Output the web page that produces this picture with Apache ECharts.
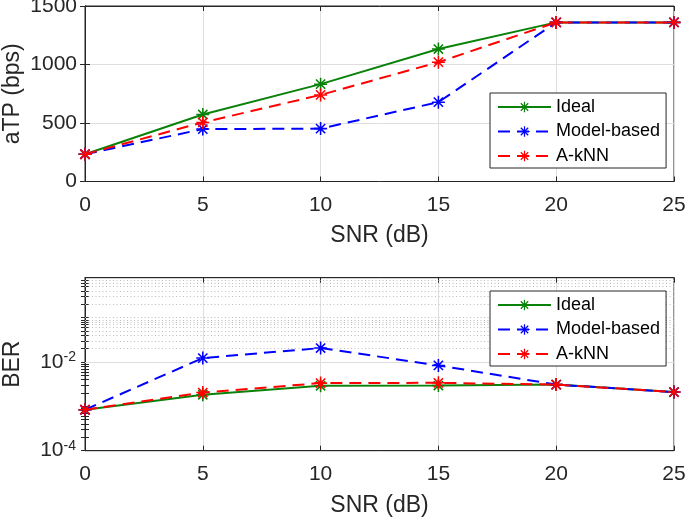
<!DOCTYPE html>
<html>
<head>
<meta charset="utf-8">
<script src="https://cdn.jsdelivr.net/npm/echarts@6/dist/echarts.min.js"></script>
<style>
html,body{margin:0;padding:0;background:#fff;}
#c{width:685px;height:519px;}
</style>
</head>
<body>
<div id="c"></div>
<script>
// ---- data ----
const snr = [0, 5, 10, 15, 20, 25];
const seriesNames = ['Ideal', 'Model-based', 'A-kNN'];
const atpIdeal = [233, 573, 832, 1132, 1360, 1360];
const atpModel = [233, 448, 452, 678, 1360, 1360];
const atpAknn  = [233, 505, 740, 1020, 1360, 1360];
const berIdeal = [8.4e-4, 1.83e-3, 2.92e-3, 2.95e-3, 3.1e-3, 2.1e-3];
const berModel = [8.4e-4, 1.23e-2, 2.07e-2, 8.4e-3, 3.1e-3, 2.1e-3];
const berAknn  = [8.4e-4, 2.05e-3, 3.35e-3, 3.4e-3, 3.1e-3, 2.1e-3];
const atpMin = 0, atpMax = 1500, atpStep = 500;
const snrMin = 0, snrMax = 25, snrStep = 5;
const berMin = 1e-4, berMax = 0.8;
const berMajor = [1e-4, 1e-2];
const berMinor = [2e-4, 3e-4, 4e-4, 5e-4, 6e-4, 7e-4, 8e-4, 9e-4,
  1e-3, 2e-3, 3e-3, 4e-3, 5e-3, 6e-3, 7e-3, 8e-3, 9e-3,
  2e-2, 3e-2, 4e-2, 5e-2, 6e-2, 7e-2, 8e-2, 9e-2,
  1e-1, 2e-1, 3e-1, 4e-1, 5e-1, 6e-1, 7e-1];

// ---- styling ----
const colors = ['#0a820a', '#0000ff', '#ff0000'];
const lineTypes = ['solid', [12, 7], [12, 7]];
const axisColor = '#262626';
const gridColor = '#dedede';
const FONT = 'Liberation Sans, Arial, Helvetica, sans-serif';
const star = 'path://M0 8.8L20 8.8L20 11.2L0 11.2Z M8.8 0L11.2 0L11.2 20L8.8 20Z M3.75 2.05L17.95 16.25L16.25 17.95L2.05 3.75Z M17.95 3.75L3.75 17.95L2.05 16.25L16.25 2.05Z';

const zip = (xs, ys) => xs.map((x, i) => [x, ys[i]]);

function mkSeries(name, idx, data, xi, yi) {
  return {
    name: name, type: 'line', xAxisIndex: xi, yAxisIndex: yi,
    data: zip(snr, data),
    symbol: star, symbolSize: 13, symbolKeepAspect: true,
    showAllSymbol: true,
    lineStyle: {color: colors[idx], width: 2, type: lineTypes[idx]},
    itemStyle: {color: colors[idx]},
    emphasis: {disabled: true},
    z: 3 + idx, animation: false
  };
}

const tickLabel = {color: axisColor, fontSize: 21, fontFamily: FONT};
const nameStyle = {color: axisColor, fontSize: 23, fontFamily: FONT};

const chart = echarts.init(document.getElementById('c'), null, {renderer: 'canvas'});

const xBase = (gi, pos, show) => ({
  type: 'value', gridIndex: gi, position: pos, min: snrMin, max: snrMax, interval: snrStep,
  axisLine: {show: true, onZero: false, lineStyle: {color: axisColor, width: 1}},
  axisTick: {show: true, inside: true, length: 5, lineStyle: {color: axisColor}},
  axisLabel: show ? Object.assign({margin: 13, formatter: v => String(v)}, tickLabel) : {show: false},
  splitLine: {show: show, lineStyle: {color: gridColor, width: 1}},
  name: show ? 'SNR (dB)' : '', nameLocation: 'middle', nameGap: 43, nameMoveOverlap: false,
  nameTextStyle: nameStyle
});

const legendBase = (top) => ({
  orient: 'vertical', left: 490, top: top,
  padding: [5, 6, 3, 7], itemGap: 6.5, itemWidth: 53, itemHeight: 13,
  borderColor: axisColor, borderWidth: 1, backgroundColor: '#fff',
  textStyle: {color: '#000', fontSize: 18, fontFamily: FONT},
  data: seriesNames, selectedMode: false
});

const option = {
  animation: false,
  backgroundColor: '#fff',
  grid: [
    {left: 85, right: 11, top: 6, height: 175.5, show: true, borderColor: axisColor, borderWidth: 1,
     outerBoundsMode: 'none', containLabel: false},
    {left: 85, right: 11, top: 277.7, height: 173, show: true, borderColor: axisColor, borderWidth: 1,
     outerBoundsMode: 'none', containLabel: false}
  ],
  xAxis: [xBase(0, 'bottom', true), xBase(0, 'top', false), xBase(1, 'bottom', true), xBase(1, 'top', false)],
  yAxis: [
    {type: 'value', gridIndex: 0, position: 'left', min: atpMin, max: atpMax, interval: atpStep,
     axisLine: {show: true, lineStyle: {color: axisColor}},
     axisTick: {show: true, inside: true, length: 5, lineStyle: {color: axisColor}},
     axisLabel: Object.assign({margin: 8, formatter: v => String(v)}, tickLabel),
     splitLine: {show: true, lineStyle: {color: gridColor, width: 1}},
     name: 'aTP (bps)', nameLocation: 'middle', nameGap: 61, nameMoveOverlap: false, nameTextStyle: nameStyle},
    {type: 'value', gridIndex: 0, position: 'right', min: atpMin, max: atpMax, interval: atpStep,
     axisLine: {show: true, lineStyle: {color: axisColor}},
     axisTick: {show: true, inside: true, length: 5, lineStyle: {color: axisColor}},
     axisLabel: {show: false}, splitLine: {show: false}},
    {type: 'log', logBase: 10, gridIndex: 1, position: 'left', min: berMin, max: berMax,
     axisLine: {show: true, lineStyle: {color: axisColor}},
     axisTick: {show: true, inside: true, length: 4, customValues: berMajor.concat(berMinor), lineStyle: {color: axisColor}},
     axisLabel: {
       customValues: berMajor, margin: 9,
       formatter: function (v) { return '{b|10}{s|' + Math.round(Math.log10(v)) + '}'; },
       rich: {
         b: {fontSize: 21, fontFamily: FONT, color: axisColor},
         s: {fontSize: 14, fontFamily: FONT, color: axisColor, verticalAlign: 'top', padding: [0, 0, 10, 0]}
       }
     },
     splitLine: {show: false}, minorTick: {show: false},
     name: 'BER', nameLocation: 'middle', nameGap: 61, nameMoveOverlap: false, nameTextStyle: nameStyle},
    {type: 'log', logBase: 10, gridIndex: 1, position: 'right', min: berMin, max: berMax,
     axisLine: {show: true, lineStyle: {color: axisColor}},
     axisTick: {show: true, inside: true, length: 4, customValues: berMajor.concat(berMinor), lineStyle: {color: axisColor}},
     axisLabel: {show: false}, splitLine: {show: false}}
  ],
  legend: [legendBase(93), legendBase(291)],
  series: [
    {
      name: 'grid-lines', type: 'line', xAxisIndex: 2, yAxisIndex: 2, data: [], silent: true, z: 1,
      markLine: {
        silent: true, symbol: 'none', animation: false, z: 1,
        label: {show: false},
        data: berMinor.map(v => ({yAxis: v, lineStyle: {color: '#bdbdbd', width: 1, type: [1, 2.5]}}))
          .concat(berMajor.map(v => ({yAxis: v, lineStyle: {color: gridColor, width: 1, type: 'solid'}})))
      }
    },
    mkSeries('Ideal', 0, atpIdeal, 0, 0),
    mkSeries('Model-based', 1, atpModel, 0, 0),
    mkSeries('A-kNN', 2, atpAknn, 0, 0),
    mkSeries('Ideal', 0, berIdeal, 2, 2),
    mkSeries('Model-based', 1, berModel, 2, 2),
    mkSeries('A-kNN', 2, berAknn, 2, 2)
  ]
};
chart.setOption(option);
</script>
</body>
</html>
